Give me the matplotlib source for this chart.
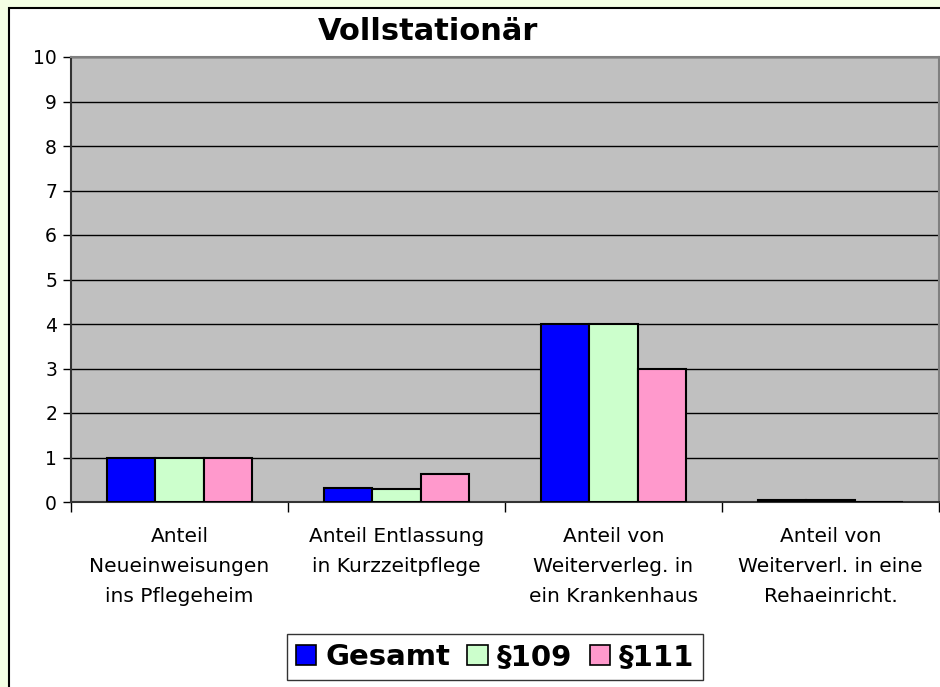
import numpy as np
import matplotlib
matplotlib.use('Agg')
import matplotlib.pyplot as plt
from matplotlib.patches import Rectangle, Patch

categories = ['Anteil\nNeueinweisungen\nins Pflegeheim',
              'Anteil Entlassung\nin Kurzzeitpflege',
              'Anteil von\nWeiterverleg. in\nein Krankenhaus',
              'Anteil von\nWeiterverl. in eine\nRehaeinricht.']
series = ['Gesamt', '§109', '§111']
gesamt = [1.0, 0.31, 4.0, 0.05]
p109 = [1.0, 0.3, 4.0, 0.05]
p111 = [1.0, 0.63, 3.0, 0.0]
colors = ['#0000FF', '#CCFFCC', '#FF99CC']
yticks = list(range(0, 11))

W, H = 940, 687
fig = plt.figure(figsize=(W / 100, H / 100), dpi=100)
fig.patch.set_facecolor('#F4FFE4')

# white chart panel with black border (runs off the right/bottom edge)
fig.patches.append(Rectangle((9 / W, -0.05), 1.0, 1 - 8 / H + 0.05,
                             transform=fig.transFigure, facecolor='white',
                             edgecolor='black', linewidth=1.5, zorder=-10))

ax = fig.add_axes([71 / W, (H - 502) / H, (939 - 71) / W, (502 - 57) / H])
ax.set_zorder(1)
ax.set_facecolor('#C0C0C0')

x = np.arange(len(categories)) + 0.5
bw = 0.222
for i, vals in enumerate([gesamt, p109, p111]):
    ax.bar(x + (i - 1) * bw, vals, width=bw, color=colors[i],
           edgecolor='black', linewidth=1.5, zorder=3)

ax.set_xlim(0, 4)
ax.set_ylim(0, 10)
ax.set_yticks(yticks)
ax.yaxis.grid(True, color='black', linewidth=1, zorder=1)
ax.set_axisbelow(True)

ax.set_xticks(range(0, 5))
ax.set_xticklabels([])
ax.set_xticks(x, minor=True)
ax.set_xticklabels(categories, minor=True, fontsize=14.5, linespacing=1.72)
ax.tick_params(axis='x', which='minor', length=0, pad=18)
ax.tick_params(axis='x', which='major', length=7, color='black', width=1)
ax.tick_params(axis='y', length=6, color='black', width=1, labelsize=13.5, pad=4)

for s in ['top', 'right']:
    ax.spines[s].set_color('#808080')
    ax.spines[s].set_linewidth(1.5)
ax.spines['left'].set_color('#333333')
ax.spines['bottom'].set_color('#333333')
ax.spines['left'].set_linewidth(1.5)
ax.spines['bottom'].set_linewidth(1.5)

fig.text(428 / W, 1 - 31 / H, 'Vollstationär', ha='center', va='center',
         fontsize=22, fontweight='bold')

handles = [Patch(facecolor=c, edgecolor='black', linewidth=1.2) for c in colors]
leg = fig.legend(handles, series, loc='center', bbox_to_anchor=(495 / W, 1 - 657 / H),
                 ncol=3, frameon=True, fancybox=False, edgecolor='black',
                 prop={'weight': 'bold', 'size': 21}, handlelength=0.7,
                 handleheight=0.7, handletextpad=0.3, columnspacing=0.6,
                 borderpad=0.3, borderaxespad=0)
leg.get_frame().set_linewidth(1)

fig.savefig('out.png', dpi=100, facecolor=fig.get_facecolor())
